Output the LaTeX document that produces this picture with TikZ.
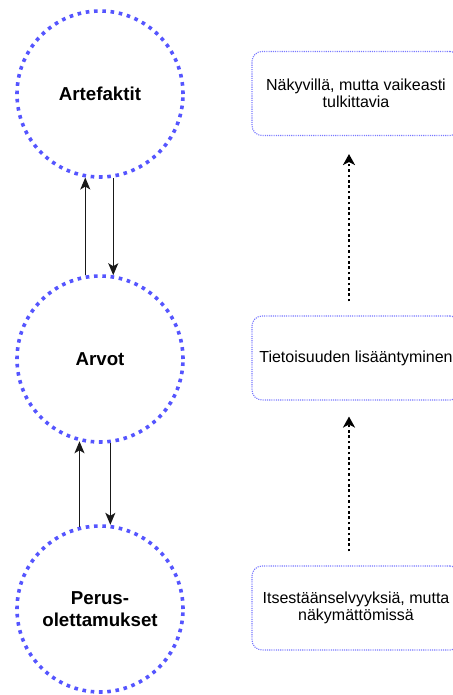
\documentclass[tikz,border=0pt]{standalone}
\usepackage{fontspec}
\setmainfont{Liberation Sans}
\usetikzlibrary{arrows.meta}

\definecolor{ringblue}{RGB}{85,85,255}
\definecolor{boxblue}{RGB}{120,120,255}

\begin{document}
\begin{tikzpicture}[
    x=1pt, y=-1pt,
    level/.style={circle, draw=ringblue, line width=3.6pt, dash pattern=on 3.6pt off 4.7pt,
        minimum size=166pt, inner sep=0pt, align=center,
        font=\fontsize{18.7}{22}\selectfont\bfseries},
    note/.style={rectangle, rounded corners=10pt, draw=boxblue, line width=1.1pt,
        dash pattern=on 1.1pt off 1.1pt, minimum width=208pt, minimum height=84pt,
        inner sep=2pt, align=center, font=\fontsize{16}{17.5}\selectfont},
    link/.style={-{Stealth[length=12pt,width=10pt,inset=3pt]}, line width=1.3pt, black!90},
    rise/.style={-{Stealth[length=11pt,width=12pt,inset=3pt]}, line width=2.7pt,
        dash pattern=on 2.7pt off 2.7pt}
]
    \useasboundingbox (0,0) rectangle (452,695);

    % the three levels
    \node[level] (artefaktit) at (100,94) {Artefaktit};
    \node[level] (arvot) at (100,359) {Arvot};
    \node[level] (perusoletukset) at (100,609) {Perus-\\olettamukset};

    % what each level looks like
    \node[note] (nakyvilla) at (356,93.5) {Näkyvillä, mutta vaikeasti\\tulkittavia};
    \node[note] (tietoisuus) at (356,358) {Tietoisuuden lisääntyminen};
    \node[note] (itsestaan) at (356,608) {Itsestäänselvyyksiä, mutta\\näkymättömissä};

    \draw[link] (arvot.100) -- (artefaktit.260);
    \draw[link] (artefaktit.279) -- (arvot.81);
    \draw[link] (perusoletukset.104) -- (arvot.256);
    \draw[link] (arvot.277) -- (perusoletukset.83);

    \draw[rise, shorten <=14pt, shorten >=18pt]
        ([xshift=-7pt]tietoisuus.north) -- ([xshift=-7pt]nakyvilla.south);
    \draw[rise, shorten <=14pt, shorten >=16pt]
        ([xshift=-7pt]itsestaan.north) -- ([xshift=-7pt]tietoisuus.south);
\end{tikzpicture}
\end{document}
